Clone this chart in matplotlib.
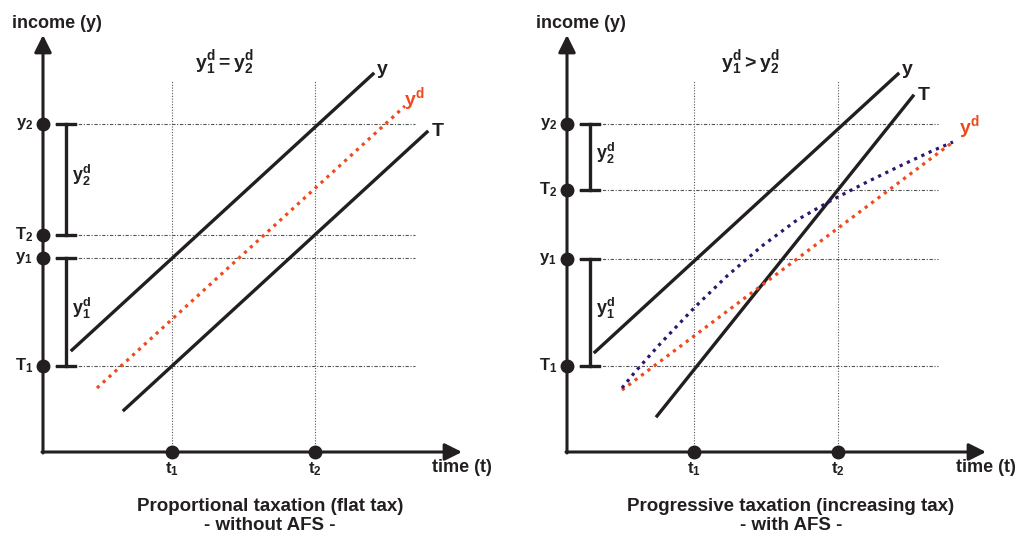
import matplotlib
matplotlib.use("Agg")
import matplotlib.pyplot as plt

plt.rcParams["font.family"] = ["Liberation Sans", "DejaVu Sans"]
plt.rcParams["font.weight"] = "bold"
plt.rcParams["mathtext.fontset"] = "custom"
plt.rcParams["mathtext.rm"] = "Liberation Sans:weight=bold"
plt.rcParams["mathtext.it"] = "Liberation Sans:weight=bold"
plt.rcParams["mathtext.bf"] = "Liberation Sans:weight=bold"

# -------------------------
# Data (units: offset from the axes origin)
# -------------------------

level_names_left = [r"$\mathbf{y_2}$", r"$\mathbf{T_2}$", r"$\mathbf{y_1}$", r"$\mathbf{T_1}$"]
level_values_left = [328, 217, 194, 86]
t_names = [r"$\mathbf{t_1}$", r"$\mathbf{t_2}$"]
t_values_left = [129, 272]

left_y_x = [29, 330]
left_y_y = [102, 378]
left_yd_x = [54, 362]
left_yd_y = [64, 346]
left_T_x = [81, 384]
left_T_y = [42, 320]

level_names_right = level_names_left
level_values_right = [328, 262, 193, 86]
t_values_right = [127, 271]

right_y_x = [28, 331]
right_y_y = [100, 378]
right_T_x = [90, 346]
right_T_y = [36, 356]
right_yd_flat_x = [55, 386]
right_yd_flat_y = [62, 310]
right_yd_prog_x = [55, 68, 93, 128, 160, 195, 230, 265, 300, 335, 365, 386]
right_yd_prog_y = [64, 80, 108, 145, 176, 206, 232, 252, 270, 287, 301, 310]

INK = "#231f20"
RED = "#ef4a1c"
PURPLE = "#2e1670"
dots = (0, (1.0, 1.5))

fig = plt.figure(figsize=(10.18, 5.35), dpi=100)


def draw_panel(ax, levels, names, tvals, grid_right, brackets, eq_text,
               eq_x, subtitle):
    ax.set_ylim(-83, 452)
    ax.axis("off")

    # gridlines
    for t in tvals:
        ax.plot([t, t], [0, 372], color="#555555", lw=0.8,
                linestyle=(0, (1, 1.5)), zorder=1)
    for v in levels:
        ax.plot([12, grid_right], [v, v], color="#555555", lw=0.8,
                linestyle=(0, (3, 1.5, 1, 1.5)), zorder=1)

    # axes with arrows
    ax.annotate("", xy=(0, 417), xytext=(0, -1),
                arrowprops=dict(arrowstyle="-|>", color=INK, lw=2.2,
                                mutation_scale=26, shrinkA=0, shrinkB=0))
    ax.annotate("", xy=(419, 0), xytext=(-1, 0),
                arrowprops=dict(arrowstyle="-|>", color=INK, lw=2.2,
                                mutation_scale=26, shrinkA=0, shrinkB=0))

    ax.plot([0] * len(levels), levels, "o", color=INK, ms=9, zorder=5)
    ax.plot(tvals, [0] * len(tvals), "o", color=INK, ms=9, zorder=5)

    for name, v in zip(names, levels):
        ax.text(-10, v, name, ha="right", va="center", fontsize=12,
                color=INK)
    for name, t in zip(t_names, tvals):
        ax.text(t, -17, name, ha="center", va="center", fontsize=12,
                color=INK)

    # brackets
    for (lo, hi, label) in brackets:
        ax.plot([23, 23], [lo, hi], color=INK, lw=2.4, zorder=4)
        ax.plot([14, 32], [lo, lo], color=INK, lw=2.4, zorder=4)
        ax.plot([14, 32], [hi, hi], color=INK, lw=2.4, zorder=4)
        ax.text(29, (lo + hi) / 2 + 4, label, ha="left", va="center",
                fontsize=13, color=INK)

    ax.text(-31, 429, "income (y)", ha="left", va="center", fontsize=13,
            color=INK)
    ax.text(389, -16, "time (t)", ha="left", va="center", fontsize=13,
            color=INK)
    ax.text(eq_x, 389, eq_text, ha="left", va="center", fontsize=14,
            color=INK)
    ax.text(subtitle[0], -64, subtitle[1], ha="center", va="center",
            fontsize=13.5, color=INK, linespacing=1.1)


# -------------------------
# Left panel: flat tax
# -------------------------

ax1 = fig.add_axes([0, 0, 0.5, 1])
ax1.set_xlim(-43, 466)
draw_panel(ax1, level_values_left, level_names_left, t_values_left, 372,
           [(level_values_left[1], level_values_left[0], r"$\mathbf{y_2^d}$"),
            (level_values_left[3], level_values_left[2], r"$\mathbf{y_1^d}$")],
           r"$\mathbf{y_1^d = y_2^d}$", 152,
           (227, "Proportional taxation (flat tax)\n- without AFS -"))

ax1.plot(left_y_x, left_y_y, color=INK, lw=2.4, zorder=3)
ax1.plot(left_T_x, left_T_y, color=INK, lw=2.4, zorder=3)
ax1.plot(left_yd_x, left_yd_y, color=RED, lw=2.3, linestyle=dots, zorder=3)
ax1.text(334, 383, "y", fontsize=14, color=INK, va="center")
ax1.text(361, 353, r"$\mathbf{y^d}$", fontsize=14, color=RED, va="center")
ax1.text(389, 321, "T", fontsize=14, color=INK, va="center")

# -------------------------
# Right panel: progressive tax
# -------------------------

ax2 = fig.add_axes([0.5, 0, 0.5, 1])
ax2.set_xlim(-58, 451)
draw_panel(ax2, level_values_right, level_names_right, t_values_right, 371,
           [(level_values_right[1], level_values_right[0], r"$\mathbf{y_2^d}$"),
            (level_values_right[3], level_values_right[2], r"$\mathbf{y_1^d}$")],
           r"$\mathbf{y_1^d > y_2^d}$", 154,
           (224, "Progressive taxation (increasing tax)\n- with AFS -"))

ax2.plot(right_y_x, right_y_y, color=INK, lw=2.4, zorder=3)
ax2.plot(right_T_x, right_T_y, color=INK, lw=2.4, zorder=3)
ax2.plot(right_yd_flat_x, right_yd_flat_y, color=RED, lw=2.3,
         linestyle=dots, zorder=3)
ax2.plot(right_yd_prog_x, right_yd_prog_y, color=PURPLE, lw=2.3,
         linestyle=dots, zorder=3)
ax2.text(335, 383, "y", fontsize=14, color=INK, va="center")
ax2.text(351, 357, "T", fontsize=14, color=INK, va="center")
ax2.text(392, 325, r"$\mathbf{y^d}$", fontsize=14, color=RED, va="center")

fig.savefig("out.png", dpi=100)
